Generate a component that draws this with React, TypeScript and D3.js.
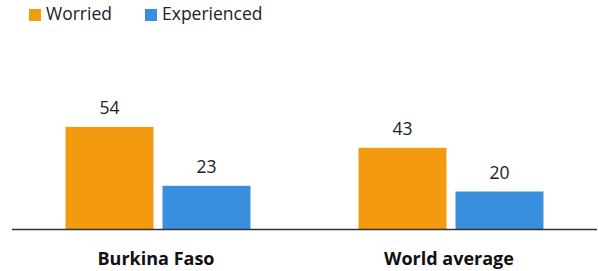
import React, { useEffect, useRef } from 'react';
import * as d3 from 'd3';

const categories = ['Burkina Faso', 'World average'];
const seriesNames = ['Worried', 'Experienced'];
const worried = [54, 43];
const experienced = [23, 20];
const colors = ['#F39A0F', '#3A8EDE'];

const W = 598;
const H = 271;
const FONT = '"Source Sans Pro", "Open Sans", sans-serif';

const App = () => {
  const svgRef = useRef<SVGSVGElement>(null);

  useEffect(() => {
    const svg = d3.select(svgRef.current);
    svg.selectAll('*').remove();

    const baseline = 229.5;
    const x0 = d3.scaleBand().domain(categories).range([11.5, 597.5]).padding(0);
    const x1 = d3.scaleBand().domain(seriesNames).range([0, x0.bandwidth()])
      .paddingInner(0.093).paddingOuter(0.557);
    const y = d3.scaleLinear().domain([0, 60]).range([baseline, baseline - 114]);

    const values = [worried, experienced];

    const groups = svg.selectAll('g.grp')
      .data(categories)
      .join('g')
      .attr('class', 'grp')
      .attr('transform', d => `translate(${x0(d)},0)`);

    seriesNames.forEach((s, si) => {
      groups.append('rect')
        .attr('x', x1(s)!)
        .attr('width', x1.bandwidth())
        .attr('y', (_, i) => y(values[si][i]))
        .attr('height', (_, i) => baseline - y(values[si][i]))
        .attr('fill', colors[si]);

      groups.append('text')
        .attr('x', x1(s)! + x1.bandwidth() / 2)
        .attr('y', (_, i) => y(values[si][i]) - 13)
        .attr('text-anchor', 'middle')
        .attr('fill', '#222')
        .style('font-family', FONT)
        .style('font-size', '17.5px')
        .text((_, i) => values[si][i]);
    });

    groups.append('text')
      .attr('x', x0.bandwidth() / 2 - 2)
      .attr('y', 265)
      .attr('text-anchor', 'middle')
      .attr('fill', '#111')
      .style('font-family', FONT)
      .style('font-size', '18px')
      .style('font-weight', 'bold')
      .text(d => d);

    // baseline
    svg.append('line')
      .attr('x1', 12)
      .attr('x2', 597)
      .attr('y1', baseline)
      .attr('y2', baseline)
      .attr('stroke', '#333')
      .attr('stroke-width', 1.6);

    // legend
    const legendX = [29, 145];
    const legend = svg.append('g');
    seriesNames.forEach((s, i) => {
      legend.append('rect')
        .attr('x', legendX[i])
        .attr('y', 9)
        .attr('width', 12)
        .attr('height', 12)
        .attr('fill', colors[i]);
      legend.append('text')
        .attr('x', legendX[i] + 17)
        .attr('y', 20)
        .attr('fill', '#222')
        .style('font-family', FONT)
        .style('font-size', '17.5px')
        .text(s);
    });
  }, []);

  return (
    <svg
      ref={svgRef}
      width={W}
      height={H}
      style={{ display: 'block', position: 'absolute', left: 0, top: 0, background: '#fff' }}
    />
  );
};

export default App;
